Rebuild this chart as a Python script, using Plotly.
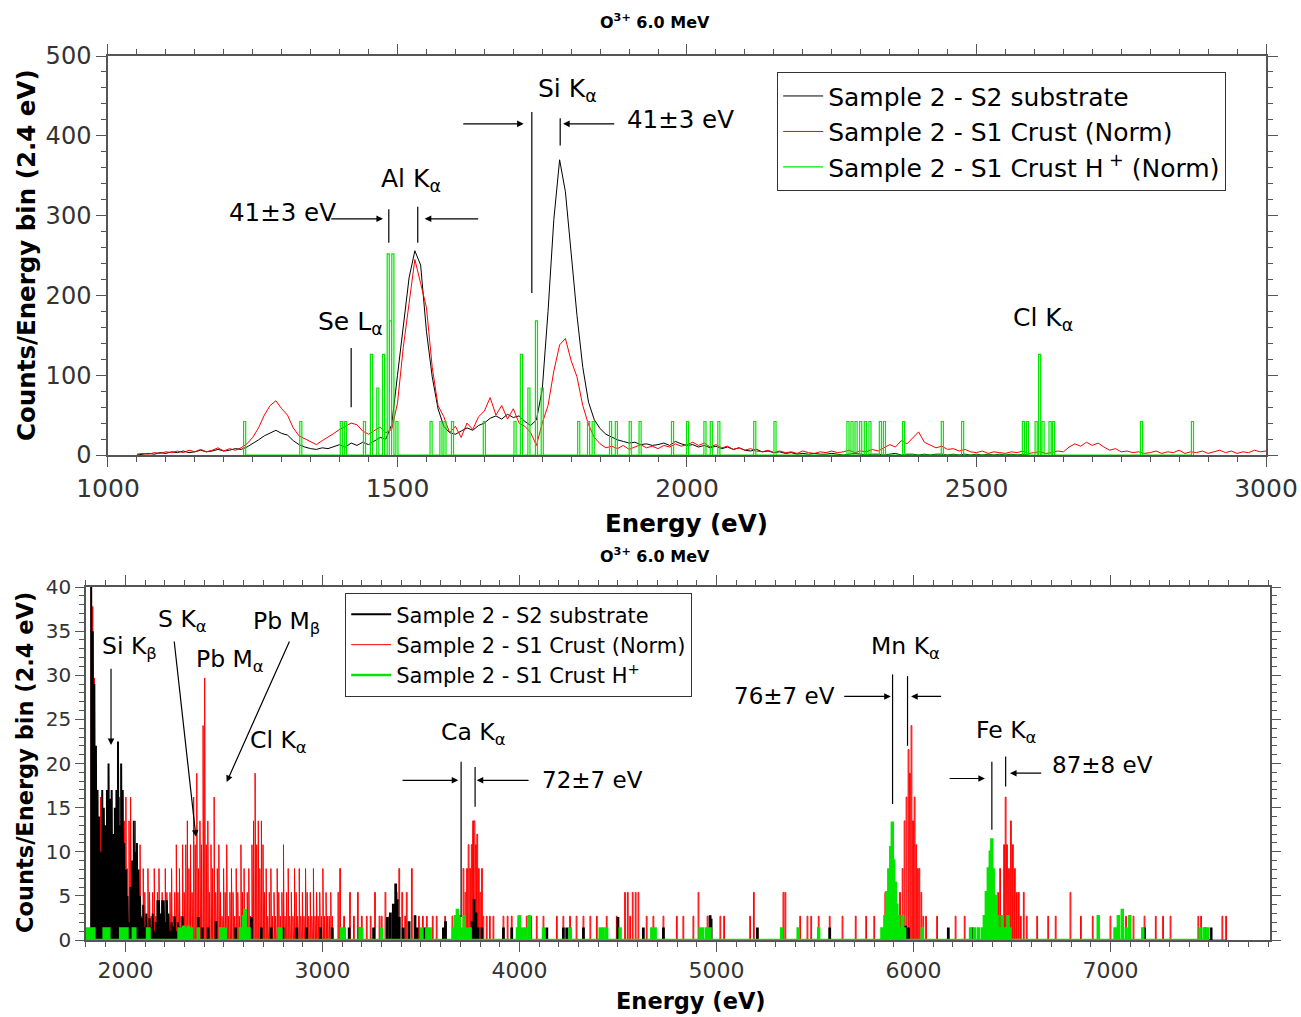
import plotly.graph_objects as go

FONT = "DejaVu Sans"

# ---------------- TOP PANEL DATA (1000-3000 eV) ----------------
top_black_start, top_black_step = 1050, 10
top_black = [
    0, 1, 2, 1, 3, 2, 4, 3, 5, 3,
    4, 6, 4, 5, 7, 5, 6, 8, 7, 10,
    14, 19, 24, 28, 31, 27, 25, 18, 13, 10,
    8, 7, 9, 8, 11, 13, 10, 15, 12, 16,
    13, 18, 22, 20, 38, 100, 165, 222, 256, 238,
    155, 98, 58, 36, 28, 26, 30, 34, 31, 37,
    40, 46, 49, 45, 51, 47, 49, 42, 37, 44,
    82, 180, 295, 370, 330, 250, 175, 110, 66, 44,
    33, 26, 22, 19, 17, 15, 16, 13, 14, 12,
    13, 15, 12, 17, 14, 12, 13, 10, 12, 9,
    11, 8, 10, 7, 9, 6, 5, 7, 4, 5,
    3, 4, 2, 3, 1, 2, 1, 2, 1, 1,
    2, 1, 0, 1, 2, 1, 0, 1, 1, 0,
    1, 2, 0, 1, 1, 0, 1, 0, 1, 1,
    0, 1, 0, 1, 0, 1, 0, 1, 0, 1,
    0, 1, 0, 1, 0,
]

top_red_start, top_red_step = 1050, 10
top_red = [
    1, 2, 1, 3, 2, 4, 3, 5, 3, 6,
    4, 7, 4, 6, 9, 5, 8, 6, 9, 14,
    22, 34, 50, 62, 68, 58, 50, 34, 24, 20,
    16, 13, 18, 22, 27, 32, 36, 40, 38, 30,
    26, 30, 35, 28, 32, 65, 135, 190, 245, 215,
    185, 110, 62, 48, 28, 36, 22, 40, 32, 48,
    55, 72, 50, 62, 45, 58, 40, 36, 28, 12,
    40, 62, 105, 138, 146, 118, 98, 62, 38, 22,
    14, 9, 11, 8, 12, 7, 10, 13, 9, 11,
    8, 12, 10, 14, 11, 13, 16, 12, 15, 10,
    13, 9, 11, 7, 9, 6, 8, 5, 4, 6,
    3, 5, 3, 4, 2, 5, 3, 2, 4, 3,
    5, 3, 4, 6, 3, 5, 4, 7, 5, 9,
    13, 10, 18, 14, 22, 29, 16, 12, 9, 11,
    7, 8, 5, 7, 4, 3, 5, 2, 4, 3,
    2, 4, 3, 5, 2, 3, 4, 2, 3, 5,
    4, 10, 14, 11, 16, 12, 15, 10, 6, 8,
    4, 5, 3, 4, 2, 3, 5, 2, 4, 3,
    6, 2, 4, 3, 5, 2, 4, 6, 3, 5,
    2, 4, 3, 6, 4, 5,
]

top_green_E = [1236, 1333, 1403, 1410, 1443, 1455, 1466, 1476, 1484, 1488, 1492,
               1499, 1558, 1575, 1582, 1595, 1650, 1703, 1714, 1727, 1740, 1750,
               1813, 1830, 1838, 1868, 1878, 1902, 1919, 1975, 2001, 2031, 2042,
               2055, 2117, 2152, 2278, 2285, 2292, 2300, 2308, 2316, 2334, 2341,
               2374, 2441, 2476, 2581, 2588, 2603, 2609, 2615, 2627, 2633, 2785, 2873]
top_green_V = [42, 42, 42, 42, 42, 126, 84, 126, 252, 168, 252,
               42, 42, 42, 42, 42, 42, 42, 126, 84, 168, 84,
               42, 42, 42, 42, 42, 42, 42, 42, 42, 42, 42,
               42, 42, 42, 42, 42, 42, 42, 42, 42, 42, 42,
               42, 42, 42, 42, 42, 42, 126, 42, 42, 42, 42, 42]

# ---------------- BOTTOM PANEL DATA (1800-7810 eV) ----------------
bot_dense_start, bot_dense_step = 1828, 8
bot_red_dense = [
    40, 37.8, 29.7, 18.9, 13.5, 2.7, 16.2, 8.1, 10.8, 5.4,
    13.5, 8.1, 10.8, 5.4, 8.1, 13.5, 5.4, 10.8, 16.2, 8.1,
    5.4, 13.5, 16.2, 8.1, 13.5, 16.2, 5.4, 10.8, 13.5, 8.1,
    5.4, 10.8, 2.7, 8.1, 5.4, 2.7, 8.1, 5.4, 2.7, 5.4,
    8.1, 2.7, 5.4, 8.1, 2.7, 5.4, 2.7, 8.1, 5.4, 2.7,
    5.4, 8.1, 2.7, 5.4, 10.8, 5.4, 8.1, 2.7, 10.8, 5.4,
    10.8, 13.5, 8.1, 10.8, 5.4, 16.2, 10.8, 18.9, 8.1, 13.5,
    10.8, 24.3, 29.7, 10.8, 13.5, 5.4, 10.8, 8.1, 16.2, 5.4,
    8.1, 10.8, 5.4, 2.7, 8.1, 5.4, 10.8, 2.7, 5.4, 8.1,
    5.4, 2.7, 8.1, 5.4, 2.7, 10.8, 5.4, 8.1, 2.7, 5.4,
    8.1, 2.7, 10.8, 13.5, 18.9, 10.8, 13.5, 8.1, 13.5, 10.8,
    5.4, 8.1, 2.7, 5.4, 8.1, 2.7, 5.4, 2.7, 8.1, 5.4,
    2.7, 5.4, 10.8, 2.7, 5.4, 8.1, 2.7, 5.4, 2.7, 8.1,
    5.4, 2.7, 8.1, 2.7, 5.4, 2.7, 8.1, 5.4, 2.7, 5.4,
    2.7, 8.1, 2.7, 5.4, 2.7, 5.4, 2.7, 8.1, 2.7, 5.4,
    2.7, 2.7, 5.4, 2.7,
]
bot_black_dense = [
    40, 35, 29, 22, 17, 14, 10, 17, 15, 13,
    17, 20, 16, 17, 12, 15, 17, 22.5, 13, 20,
    17, 11, 8, 5, 2, 6, 9, 13.5, 10, 11,
    8, 5, 2.5, 4, 1.5, 3, 1, 2.5, 1.5, 3,
    1, 2, 4.5, 4.5, 3, 4.5, 4.5, 2, 4.5, 3,
    1, 2, 1.5, 2.7, 1, 2, 1.5, 0.8, 2.7, 1.2,
]

bot_red_E = [3081, 3090, 3110, 3140, 3160, 3180, 3200, 3225, 3245, 3267, 3290, 3301,
             3320, 3340, 3360, 3377, 3390, 3405, 3420, 3428, 3454, 3470, 3490, 3510,
             3530, 3560, 3580, 3623, 3660, 3690, 3716, 3726, 3734, 3742, 3750, 3758,
             3765, 3772, 3779, 3786, 3794, 3802, 3810, 3817, 3834, 3850, 3868, 3919,
             3940, 3961, 3995, 4037, 4060, 4088, 4122, 4190, 4223, 4257, 4290, 4325,
             4360, 4393, 4443, 4494, 4536, 4550, 4562, 4575, 4590, 4604, 4646, 4680,
             4731, 4799, 4832, 4883, 4909, 4955, 4968, 5020, 5039, 5171, 5190, 5340,
             5350, 5425, 5462, 5481, 5519, 5575, 5640, 5707, 5760, 5801, 5857, 5870,
             5890, 5910, 5932, 5945, 5955, 5965, 5975, 5982, 5990, 5998, 6006, 6014,
             6022, 6030, 6040, 6050, 6064, 6120, 6214, 6260, 6420, 6430, 6440, 6450,
             6460, 6468, 6475, 6485, 6495, 6505, 6515, 6525, 6535, 6545, 6560, 6575,
             6628, 6684, 6722, 6797, 6850, 6910, 7000, 7079, 7117, 7173, 7230, 7267,
             7305, 7446, 7460, 7568, 7587]
bot_red_V = [5.4, 8.1, 2.7, 5.4, 2.7, 5.4, 2.7, 2.7, 2.7, 5.4, 2.7, 2.7,
             5.4, 2.7, 2.7, 5.4, 8.1, 5.4, 2.7, 5.4, 8.1, 2.7, 2.7, 2.7,
             2.7, 2.7, 2.7, 2.7, 2.7, 2.7, 8.1, 5.4, 8.1, 10.8, 8.1, 10.8,
             13.5, 13.5, 10.8, 12, 8.1, 5.4, 8.1, 2.7, 2.7, 2.7, 2.7, 2.7,
             2.7, 2.7, 2.7, 2.7, 2.7, 2.7, 2.7, 2.7, 2.7, 2.7, 2.7, 2.7,
             2.7, 2.7, 2.7, 2.7, 5.4, 5.4, 2.7, 5.4, 5.4, 5.4, 2.7, 2.7,
             2.7, 2.7, 2.7, 2.7, 5.4, 2.7, 2.7, 2.7, 2.7, 2.7, 5.4, 5.4,
             5.4, 2.7, 2.7, 2.7, 2.7, 2.7, 2.7, 2.7, 2.7, 2.7, 5.4, 2.7,
             5.4, 2.7, 5.4, 8.1, 13.5, 16.2, 21.6, 18.9, 24.3, 13.5, 16.2, 10.8,
             8.1, 8.1, 5.4, 2.7, 2.7, 2.7, 2.7, 2.7, 2.7, 5.4, 8.1, 2.7,
             10.8, 16.2, 10.8, 8.1, 13.5, 10.8, 8.1, 5.4, 5.4, 2.7, 5.4, 2.7,
             2.7, 2.7, 2.7, 5.4, 2.7, 2.7, 2.7, 2.7, 2.7, 2.7, 2.7, 2.7,
             2.7, 2.7, 2.7, 2.7, 2.7]

bot_black_E = [2320, 2370, 2390, 2420, 2460, 2510, 2560, 2600, 2640, 2690, 2740, 2800,
               2870, 2920, 2990, 3050, 3110, 3136, 3190, 3260, 3330, 3345, 3360, 3372,
               3380, 3390, 3410, 3440, 3470, 3480, 3520, 3614, 3625, 3740, 3760, 3770,
               3780, 3790, 3810, 3919, 3961, 4139, 4223, 4240, 4257, 4325, 4500, 4629,
               4731, 4968, 4973, 5208, 5575, 5960, 5975, 6177, 6299, 6393, 6449, 7173,
               7480, 7511]
bot_black_V = [1.3, 2.5, 1.3, 1.3, 2, 1.3, 1.3, 1.3, 2.5, 1.3, 1.3, 1.3,
               1.3, 1.3, 1.3, 1.3, 1.3, 1.3, 1.3, 1.3, 2.5, 3, 4, 6.3,
               4.5, 2.5, 1.3, 2, 2.7, 1.3, 1.3, 1.3, 2, 1.3, 2, 4.5,
               3, 1.3, 1.3, 1.3, 1.3, 1.3, 1.3, 1.3, 1.3, 1.3, 2.5, 1.3,
               1.3, 2.7, 2.3, 1.3, 1.3, 1.5, 1.3, 1.3, 1.3, 1.3, 1.3, 1.3,
               1.3, 1.3]

bot_green_E = [1808, 1816, 1824, 1832, 1840, 1892, 1900, 1916, 1976, 1984, 1992, 2000,
               2008, 2040, 2048, 2112, 2120, 2272, 2280, 2288, 2296, 2304, 2312, 2320,
               2328, 2336, 2370, 2484, 2492, 2508, 2584, 2600, 2608, 2616, 2628, 2780,
               2790, 3098, 3110, 3191, 3200, 3301, 3504, 3530, 3547, 3665, 3675, 3685,
               3695, 3710, 3720, 3735, 3750, 3990, 4000, 4015, 4030, 4050, 4122, 4257,
               4410, 4425, 4443, 4511, 4672, 4689, 4917, 4930, 4950, 4968, 5331, 5415,
               5519, 5840, 5855, 5865, 5875, 5885, 5893, 5900, 5908, 5916, 5925, 5935,
               5945, 5955, 6045, 6290, 6310, 6330, 6350, 6360, 6370, 6380, 6390, 6398,
               6405, 6415, 6425, 6435, 6450, 6465, 6480, 6490, 6938, 7023, 7040, 7060,
               7080, 7098, 7164, 7455, 7475, 7493]
bot_green_V = [1.3, 1.3, 1.3, 1.3, 1.3, 1.3, 1.3, 1.3, 1.3, 1.3, 1.3, 1.3,
               1.3, 1.3, 1.3, 1.3, 1.3, 1.3, 1.3, 1.3, 1.5, 1.3, 1.3, 1.5,
               1.3, 1.3, 1.3, 1.3, 1.3, 1.3, 1.3, 2.7, 3.4, 1.3, 1.3, 1.3,
               1.3, 1.3, 1.3, 1.3, 1.3, 1.3, 1.3, 1.3, 1.3, 1.3, 2.7, 3.4,
               2.7, 1.3, 2.7, 1.3, 1.3, 1.3, 2.7, 1.3, 1.3, 2.7, 1.3, 1.3,
               1.3, 1.3, 1.3, 1.3, 1.3, 1.3, 1.3, 1.3, 1.3, 1.3, 1.3, 1.3,
               1.3, 1.3, 2.7, 5.4, 8, 10.5, 13.3, 9, 6.5, 4, 2.7, 1.3,
               2.7, 1.3, 1.3, 1.3, 1.3, 1.3, 1.3, 2.7, 5.4, 8.1, 10, 11.4,
               8, 5, 2.7, 1.3, 2.7, 1.3, 2.7, 1.3, 2.7, 1.3, 2.7, 3.4,
               1.3, 2.7, 1.3, 1.3, 1.3, 1.3]

legend_names_top = ["Sample 2 - S2 substrate", "Sample 2 - S1 Crust (Norm)",
                    "Sample 2 - S1 Crust H<sup> +</sup> (Norm)"]
legend_names_bot = ["Sample 2 - S2 substrate", "Sample 2 - S1 Crust (Norm)",
                    "Sample 2 - S1 Crust H<sup>+</sup>"]


# ---------------- helpers ----------------
def grid(start, step, vals):
    return [start + step * i for i in range(len(vals))]


def spikes(E, V, hw):
    xs, ys = [], []
    for e, v in zip(E, V):
        xs += [e - hw, e - hw, e + hw, e + hw]
        ys += [0, v, v, 0]
    return xs, ys


BLACK, RED, GREEN = "#000000", "#ff0000", "#00e600"
TICKC = "#333333"

fig = go.Figure()

# top panel
fig.add_trace(go.Scatter(x=grid(top_black_start, top_black_step, top_black), y=top_black,
                         mode="lines", line=dict(color=BLACK, width=1),
                         name=legend_names_top[0], xaxis="x", yaxis="y", legend="legend"))
fig.add_trace(go.Scatter(x=grid(top_red_start, top_red_step, top_red), y=top_red,
                         mode="lines", line=dict(color=RED, width=1),
                         name=legend_names_top[1], xaxis="x", yaxis="y", legend="legend"))
gx, gy = spikes(top_green_E, top_green_V, 1.8)
fig.add_trace(go.Scatter(x=gx, y=gy, mode="lines", line=dict(color=GREEN, width=1.2),
                         name=legend_names_top[2], xaxis="x", yaxis="y", legend="legend"))

# bottom panel
rx, ry = spikes(grid(bot_dense_start, bot_dense_step, bot_red_dense), bot_red_dense, 1.6)
rx2, ry2 = spikes(bot_red_E, bot_red_V, 2.0)
fig.add_trace(go.Scatter(x=rx + rx2, y=ry + ry2, mode="lines", line=dict(color=RED, width=1),
                         name=legend_names_bot[1], xaxis="x2", yaxis="y2",
                         legend="legend2", legendrank=2))
bx, by = spikes(grid(bot_dense_start, bot_dense_step, bot_black_dense), bot_black_dense, 1.6)
bx2, by2 = spikes(bot_black_E, bot_black_V, 2.0)
fig.add_trace(go.Scatter(x=bx + bx2, y=by + by2, mode="lines", line=dict(color=BLACK, width=2),
                         name=legend_names_bot[0], xaxis="x2", yaxis="y2",
                         legend="legend2", legendrank=1))
gx2, gy2 = spikes(bot_green_E, bot_green_V, 2.4)
fig.add_trace(go.Scatter(x=gx2, y=gy2, mode="lines", line=dict(color=GREEN, width=2.5),
                         name=legend_names_bot[2], xaxis="x2", yaxis="y2",
                         legend="legend2", legendrank=3))

AX = dict(showline=True, linecolor="#555555", linewidth=1.5, mirror="allticks",
          ticks="outside", tickcolor="#555555", tickwidth=1.2, showgrid=False,
          zeroline=False, automargin=False)

fig.update_layout(
    width=1301, height=1017, autosize=False,
    margin=dict(l=0, r=0, t=0, b=0, pad=0),
    paper_bgcolor="white", plot_bgcolor="white",
    font=dict(family=FONT, color="black"),
    showlegend=True,
    xaxis=dict(AX, domain=[0.0830, 0.9731], range=[1000, 3000], anchor="y",
               tickvals=[1000, 1500, 2000, 2500, 3000], ticklen=10,
               tickfont=dict(size=25, color=TICKC),
               minor=dict(ticks="outside", dtick=50, ticklen=5, tickcolor="#555555")),
    yaxis=dict(AX, domain=[0.5526, 0.9449], range=[0, 500], anchor="x",
               tickvals=[0, 100, 200, 300, 400, 500], ticklen=10,
               tickfont=dict(size=24, color=TICKC),
               minor=dict(ticks="outside", dtick=20, ticklen=5, tickcolor="#555555")),
    xaxis2=dict(AX, domain=[0.0661, 0.9762], range=[1800, 7810], anchor="y2",
                tickvals=[2000, 3000, 4000, 5000, 6000, 7000], ticklen=10,
                tickfont=dict(size=22, color=TICKC),
                minor=dict(ticks="outside", dtick=100, ticklen=5, tickcolor="#555555")),
    yaxis2=dict(AX, domain=[0.0757, 0.4228], range=[0, 40], anchor="x2",
                tickvals=[0, 5, 10, 15, 20, 25, 30, 35, 40], ticklen=9,
                tickfont=dict(size=20, color=TICKC),
                minor=dict(ticks="outside", dtick=1, ticklen=5, tickcolor="#555555")),
    legend=dict(x=0.5972, y=0.9292, xanchor="left", yanchor="top",
                bordercolor="#333333", borderwidth=1.2, bgcolor="white",
                font=dict(size=25, family=FONT), itemwidth=40, tracegroupgap=0),
    legend2=dict(x=0.2652, y=0.4169, xanchor="left", yanchor="top",
                 bordercolor="#333333", borderwidth=1.2, bgcolor="white",
                 font=dict(size=21, family=FONT), itemwidth=40, tracegroupgap=0),
)

ann = []


def text(x, y, t, size, ax="x", ay="y"):
    ann.append(dict(x=x, y=y, xref=ax, yref=ay, text=t, showarrow=False,
                    font=dict(size=size, family=FONT, color="black"),
                    xanchor="center", yanchor="middle"))


def ptext(x, y, t, size, angle=0):
    ann.append(dict(x=x, y=y, xref="paper", yref="paper", text=t, showarrow=False,
                    textangle=angle, xanchor="center", yanchor="middle",
                    font=dict(size=size, family=FONT, color="black")))


def arrow(hx, hy, tx, ty, ax="x", ay="y"):
    ann.append(dict(x=hx, y=hy, ax=tx, ay=ty, xref=ax, yref=ay, axref=ax, ayref=ay,
                    text="", showarrow=True, arrowhead=2, arrowsize=1.1,
                    arrowwidth=1.2, arrowcolor="black", standoff=0, startstandoff=0))


# titles
ptext(0.5035, 0.9784, "<b>O<sup>3+</sup> 6.0 MeV</b>", 16)
ptext(0.5035, 0.4533, "<b>O<sup>3+</sup> 6.0 MeV</b>", 16)
ptext(0.5273, 0.4848, "<b>Energy (eV)</b>", 24.5)
ptext(0.531, 0.0157, "<b>Energy (eV)</b>", 22.5)
ptext(0.0208, 0.7493, "<b>Counts/Energy bin (2.4 eV)</b>", 24.5, -90)
ptext(0.0192, 0.2507, "<b>Counts/Energy bin (2.4 eV)</b>", 22.5, -90)

# top labels
text(1793, 457, "Si K<sub>α</sub>", 25)
text(1988, 420, "41±3 eV", 24.5)
text(1523, 345, "Al K<sub>α</sub>", 25)
text(1302, 304, "41±3 eV", 24.5)
text(1418, 165, "Se L<sub>α</sub>", 25)
text(2615, 170, "Cl K<sub>α</sub>", 25)
arrow(1718, 415, 1611, 415)
arrow(1786, 415, 1877, 415)
arrow(1475, 296, 1383, 296)
arrow(1547, 296, 1642, 296)

# bottom labels
B = dict(ax="x2", ay="y2")
text(2023, 33.2, "Si K<sub>β</sub>", 23.5, **B)
text(2291, 36.2, "S K<sub>α</sub>", 23.5, **B)
text(2531, 31.7, "Pb M<sub>α</sub>", 23.5, **B)
text(2819, 36.0, "Pb M<sub>β</sub>", 23.5, **B)
text(2776, 22.5, "Cl K<sub>α</sub>", 23.5, **B)
text(3765, 23.4, "Ca K<sub>α</sub>", 23.5, **B)
text(4369, 18.1, "72±7 eV", 23, **B)
text(5960, 33.2, "Mn K<sub>α</sub>", 23.5, **B)
text(5343, 27.6, "76±7 eV", 23, **B)
text(6473, 23.6, "Fe K<sub>α</sub>", 23.5, **B)
text(6962, 19.8, "87±8 eV", 23, **B)
arrow(1927, 22.1, 1927, 30.9, **B)
arrow(2358, 11.7, 2247, 34.0, **B)
arrow(2514, 17.9, 2836, 34.0, **B)
arrow(3690, 18.1, 3399, 18.1, **B)
arrow(3783, 18.1, 4054, 18.1, **B)
arrow(5885, 27.6, 5641, 27.6, **B)
arrow(5988, 27.6, 6148, 27.6, **B)
arrow(6363, 18.3, 6176, 18.3, **B)
arrow(6490, 18.9, 6656, 18.9, **B)

fig.update_layout(annotations=ann)

shapes = []


def vline(x, y0, y1, xr="x", yr="y"):
    shapes.append(dict(type="line", x0=x, x1=x, y0=y0, y1=y1, xref=xr, yref=yr,
                       line=dict(color="black", width=1.2)))


vline(1732, 203, 430)
vline(1781, 388, 422)
vline(1485, 266, 308)
vline(1535, 266, 311)
vline(1420, 60, 134)
vline(3704, 2.6, 20.2, "x2", "y2")
vline(3775, 15.1, 19.6, "x2", "y2")
vline(5894, 15.4, 30.1, "x2", "y2")
vline(5970, 22.0, 29.9, "x2", "y2")
vline(6398, 12.5, 20.2, "x2", "y2")
vline(6468, 17.4, 20.8, "x2", "y2")
fig.update_layout(shapes=shapes)

fig.write_html("out.html", config={"displayModeBar": False},
               post_script="document.body.style.margin='0';")
